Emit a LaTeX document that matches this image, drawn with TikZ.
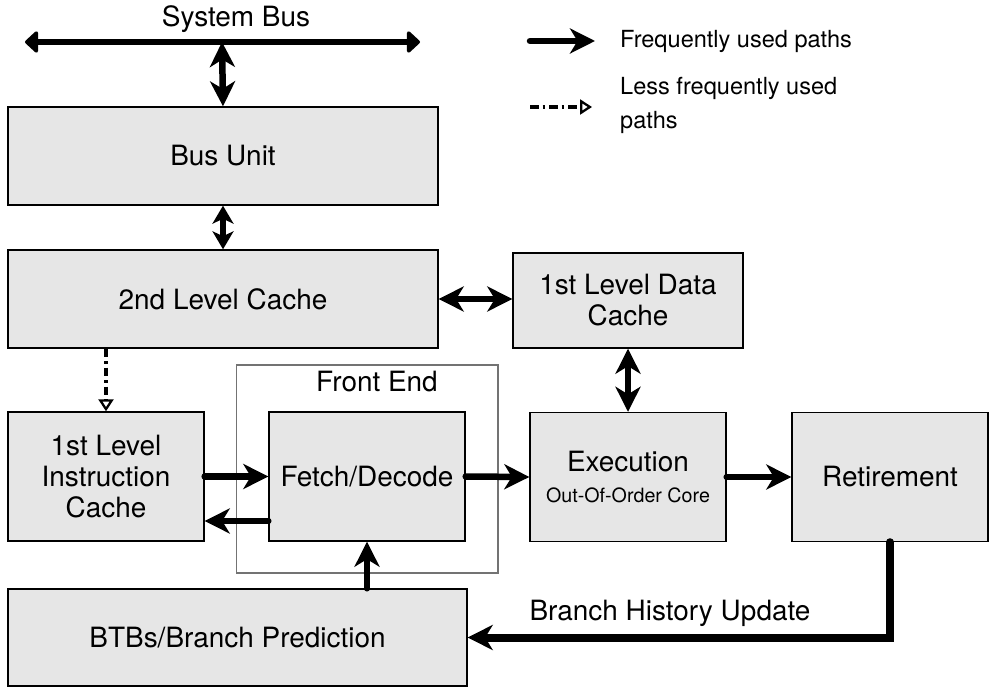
\documentclass[tikz,border=0pt]{standalone}
\usepackage{fontspec}
\setmainfont{TeX Gyre Heros}
\usetikzlibrary{arrows.meta,positioning,calc}

\begin{document}
\begin{tikzpicture}[x=0.02cm, y=-0.02cm,
        >={Stealth[length=0.5cm,width=0.5cm,inset=0.15cm]},
        block/.style={draw, line width=0.8pt, fill=boxgray, align=center, inner sep=2pt, font=\fontsize{15.9}{17.6}\selectfont},
        freq/.style={line width=0.13cm, line cap=round, ->},
        both/.style={line width=0.13cm, <->},
        less/.style={line width=2pt, dash pattern=on 0.17cm off 0.08cm on 0.05cm off 0.08cm, -{Triangle[open,length=0.24cm,width=0.3cm,line width=1.3pt]}},
        lbl/.style={font=\fontsize{15.9}{17.6}\selectfont},
        legtext/.style={anchor=west, align=left, font=\fontsize{13.4}{19.4}\selectfont}
    ]
        % Define the box grey
        \definecolor{boxgray}{RGB}{230,230,230}
        \useasboundingbox (0,0) rectangle (989,688);

        % System bus
        \node[lbl] (sysbus) at (236,19) {System Bus};
        \coordinate (busL) at (25,42);
        \coordinate (busR) at (420,42);
        \coordinate (busM) at (222,42);
        \draw[line width=0.12cm, {Triangle[round,length=0.28cm,width=0.5cm]}-{Triangle[round,length=0.28cm,width=0.5cm]}] (busL) -- (busR);

        % Front end frame
        \node[draw=black!55, line width=0.6pt, minimum width=5.24cm, minimum height=4.16cm] (frontend) at (367,469) {};
        \node[lbl] (felabel) at (377,382) {Front End};

        % Blocks
        \node[block, minimum width=8.6cm, minimum height=1.96cm] (busunit) at (223,156) {Bus Unit};
        \node[block, minimum width=8.6cm, minimum height=1.96cm] (l2cache) at (223,299) {2nd Level Cache};
        \node[block, minimum width=4.6cm, minimum height=1.9cm] (dcache) at (628,300.5) {1st Level Data\\Cache};
        \node[block, minimum width=3.92cm, minimum height=2.58cm] (icache) at (106,476.5) {1st Level\\Instruction\\Cache};
        \node[block, minimum width=3.92cm, minimum height=2.58cm] (fetch) at (367,476.5) {Fetch/Decode};
        \node[block, minimum width=3.92cm, minimum height=2.58cm] (exec) at (628,477) {Execution\\{\fontsize{11.2}{13}\selectfont Out-Of-Order Core}};
        \node[block, minimum width=3.92cm, minimum height=2.58cm] (retire) at (890,477) {Retirement};
        \node[block, minimum width=9.18cm, minimum height=1.94cm] (btb) at (237.5,637.5) {BTBs/Branch Prediction};

        % Connecting paths
        \draw[both] (busM) -- (busunit.north);
        \draw[line width=0.12cm, {Stealth[length=0.36cm,width=0.42cm,inset=0.1cm]}-{Stealth[length=0.36cm,width=0.42cm,inset=0.1cm]}] (busunit.south) -- (l2cache.north);
        \draw[both] (l2cache.east) -- (l2cache.east -| dcache.west);
        \draw[both] (dcache.south) -- (exec.north);
        \draw[less] (l2cache.south -| icache.north) -- (icache.north);
        \draw[freq] (icache.east) -- (fetch.west);
        \draw[freq] ([yshift=-0.89cm]fetch.west) -- ([yshift=-0.89cm]icache.east);
        \draw[freq] (fetch.east) -- (exec.west);
        \draw[freq] (exec.east) -- (retire.west);
        \draw[freq] (btb.north -| fetch.south) -- (fetch.south);
        \draw[freq, line width=0.16cm] (retire.south) |- (btb.east);
        \node[lbl] (bhu) at (670,613) {Branch History Update};

        % Legend
        \coordinate (legfs) at (530,41);
        \coordinate (legfe) at (595,41);
        \draw[freq] (legfs) -- (legfe);
        \node[legtext] (legfreq) at (614,41) {Frequently used paths};
        \coordinate (legls) at (530,107);
        \coordinate (legle) at (592,107);
        \draw[less] (legls) -- (legle);
        \node[legtext] (legless) at (614,105) {Less frequently used\\paths};
    \end{tikzpicture}
\end{document}
